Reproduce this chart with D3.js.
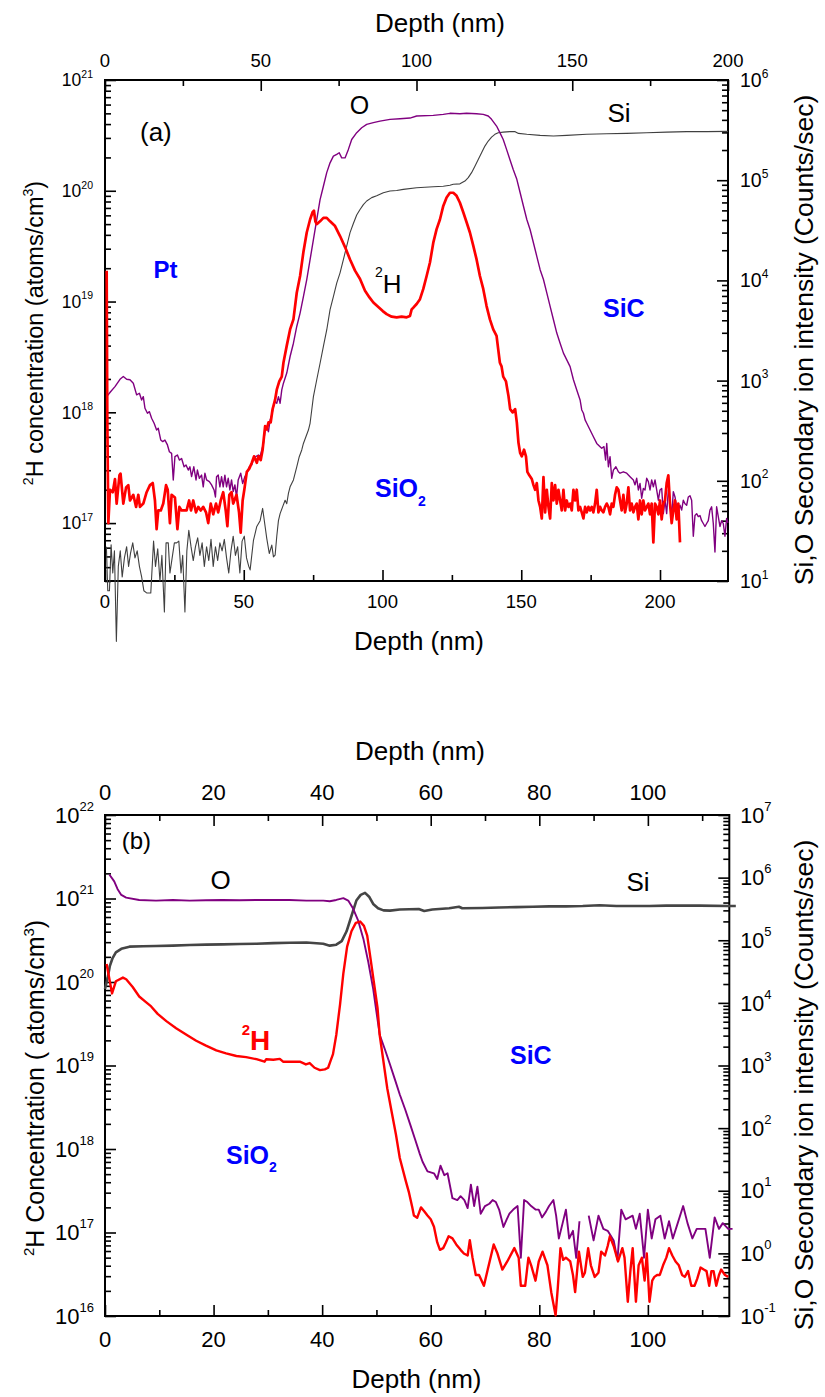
<!DOCTYPE html>
<html>
<head>
<meta charset="utf-8">
<script src="https://cdn.jsdelivr.net/npm/d3@7"></script>
<style>
  body { margin: 0; background: #fff; }
  svg { display: block; }
  text { font-family: "Liberation Sans", Arial, Helvetica, sans-serif; }
</style>
</head>
<body>
<svg id="chart" width="825" height="1397"></svg>
<script>
// ---------------- Panel (a): Pt / SiO2 / SiC stack, 200 nm scale ----------------
// [depth (nm), 2H concentration (atoms/cm3)]
const aH2 = [[0.6,1.9e19],[0.84,8.1e17],[1.2,1.0e17],[1.8,2.0e17],[2.8,1.9e17],[3.6,2.5e17],[4.2,1.5e17],[5.2,2.7e17],[5.6,2.8e17],[6.6,1.5e17],[7.6,2.1e17],[8.4,2.2e17],[9.0,1.6e17],[10.2,1.8e17],[11.2,1.4e17],[12.0,1.8e17],[12.6,1.4e17],[13.8,1.5e17],[15.0,1.9e17],[16.2,2.2e17],[17.2,2.3e17],[18.0,1.6e17],[18.6,8.8e16],[19.2,1.3e17],[20.1,1.3e17],[21.0,1.5e17],[22.0,2.2e17],[22.6,2.0e17],[23.4,1.0e17],[24.0,1.8e17],[25.2,1.7e17],[26.1,8.8e16],[26.8,1.4e17],[27.6,1.3e17],[28.5,1.3e17],[29.4,1.3e17],[30.3,1.6e17],[31.0,1.3e17],[31.8,1.6e17],[32.8,1.25e17],[33.6,1.4e17],[34.5,1.3e17],[35.4,1.4e17],[36.4,1.25e17],[37.2,1.0e17],[38.1,1.5e17],[39.0,1.2e17],[40.0,1.5e17],[40.8,1.25e17],[41.7,1.6e17],[42.6,1.9e17],[43.5,1.3e17],[44.1,9.4e16],[44.8,1.8e17],[45.6,1.9e17],[46.2,1.5e17],[47.4,1.8e17],[48.3,1.25e17],[48.9,8.2e16],[49.6,1.6e17],[50.2,2.0e17],[51.1,2.9e17],[52.0,3.1e17],[52.9,3.5e17],[53.7,4.0e17],[54.7,3.5e17],[55.3,4.0e17],[56.1,3.7e17],[56.8,4.6e17],[57.7,7.5e17],[58.3,7.0e17],[58.9,8.1e17],[59.7,8.1e17],[60.4,1.07e18],[61.3,1.3e18],[61.9,1.6e18],[62.8,1.9e18],[63.7,2.1e18],[64.3,2.8e18],[65.5,4.0e18],[66.7,5.6e18],[67.9,6.9e18],[69.1,1.2e19],[70.3,1.7e19],[71.5,2.8e19],[72.7,4.2e19],[73.9,5.5e19],[74.8,6.4e19],[75.3,6.6e19],[75.8,5.3e19],[76.3,5.0e19],[77.5,5.3e19],[78.7,5.7e19],[79.9,5.7e19],[81.1,5.3e19],[82.9,4.8e19],[84.7,3.9e19],[86.5,3.1e19],[88.3,2.4e19],[90.1,1.9e19],[91.9,1.6e19],[93.7,1.25e19],[95.3,1.09e19],[96.7,9.8e18],[98.1,9.1e18],[100.1,8.2e18],[101.5,7.7e18],[103.3,7.3e18],[105.1,7.2e18],[106.9,7.3e18],[108.7,7.2e18],[109.9,7.4e18],[110.5,8.5e18],[111.1,8.8e18],[112.3,9.5e18],[113.5,1.05e19],[114.7,1.3e19],[115.9,1.7e19],[117.1,2.25e19],[118.3,3.4e19],[119.5,4.5e19],[120.7,5.5e19],[121.9,7.3e19],[123.1,8.7e19],[124.3,9.6e19],[125.5,9.6e19],[126.7,9.0e19],[127.9,7.8e19],[129.1,6.4e19],[130.3,5.2e19],[131.5,4.2e19],[132.7,3.2e19],[133.9,2.4e19],[135.1,1.7e19],[136.3,1.3e19],[137.5,9.1e18],[138.7,6.9e18],[139.9,5.6e18],[141.1,4.9e18],[141.7,3.7e18],[142.3,2.8e18],[142.9,2.6e18],[143.5,2.1e18],[144.5,1.9e18],[145.0,1.6e18],[145.4,1.4e18],[146.0,1.07e18],[146.9,1.0e18],[147.8,1.07e18],[148.4,8.1e17],[149.0,5.3e17],[149.6,4.3e17],[150.2,4.0e17],[151.0,4.6e17],[151.7,4.0e17],[152.2,2.9e17],[152.9,2.7e17],[153.8,2.5e17],[154.4,2.2e17],[155.0,2.0e17],[155.6,2.3e17],[156.2,1.6e17],[156.8,1.4e17],[157.4,1.1e17],[158.0,2.6e17],[158.6,1.25e17],[159.2,2.0e17],[159.8,1.4e17],[160.4,1.1e17],[161.0,2.3e17],[161.6,1.6e17],[162.2,2.2e17],[162.8,1.5e17],[163.4,2.0e17],[164.0,1.6e17],[164.6,1.3e17],[165.2,2.0e17],[165.8,1.3e17],[166.4,1.6e17],[167.0,1.4e17],[167.6,1.5e17],[168.2,1.3e17],[168.8,2.0e17],[169.4,1.6e17],[170.0,2.0e17],[170.6,1.3e17],[171.2,1.4e17],[171.8,1.25e17],[172.4,1.1e17],[173.0,1.4e17],[173.6,1.25e17],[174.2,1.4e17],[174.8,1.3e17],[175.4,1.4e17],[176.0,1.25e17],[176.6,1.5e17],[177.2,2.0e17],[177.8,1.25e17],[178.4,1.4e17],[179.0,1.3e17],[179.6,1.25e17],[180.2,1.4e17],[180.8,1.5e17],[181.4,1.4e17],[182.0,1.2e17],[182.6,1.5e17],[183.2,1.4e17],[183.8,1.8e17],[184.4,2.1e17],[185.0,2.0e17],[185.6,1.6e17],[186.2,1.3e17],[186.8,1.8e17],[187.4,1.25e17],[188.0,1.5e17],[188.6,2.1e17],[189.2,1.3e17],[189.8,1.5e17],[190.4,1.25e17],[191.0,1.4e17],[191.6,1.5e17],[192.2,1.08e17],[192.8,1.6e17],[193.4,1.2e17],[194.0,1.6e17],[194.6,1.3e17],[195.2,1.4e17],[195.8,1.5e17],[196.4,1.2e17],[197.0,1.5e17],[197.6,6.7e16],[198.2,1.5e17],[198.8,1.4e17],[199.4,1.2e17],[200.0,1.6e17],[200.6,1.08e17],[201.2,1.5e17],[201.8,1.6e17],[202.4,2.3e17],[203.0,2.7e17],[203.6,1.5e17],[204.2,1.0e17],[204.8,1.3e17],[205.4,1.6e17],[206.0,1.08e17],[206.6,1.5e17],[207.2,6.7e16]];

// [depth (nm), O secondary ion intensity (counts/sec)]
const aO = [[0.6,692],[2.0,775],[3.6,870],[5.4,1030],[6.6,1100],[7.8,1030],[9.0,1020],[10.2,942],[11.4,720],[12.4,748],[13.2,641],[13.8,692],[14.4,530],[15.3,472],[16.0,490],[16.8,421],[17.7,375],[18.6,321],[19.2,334],[20.1,255],[20.8,246],[21.6,255],[22.5,228],[23.2,195],[24.0,188],[24.6,102],[25.2,174],[26.1,181],[26.8,161],[27.6,167],[28.5,138],[29.2,144],[30.0,128],[30.6,138],[31.2,110],[32.0,138],[32.8,102],[33.3,128],[34.0,106],[34.8,114],[35.4,87],[36.0,119],[36.6,102],[37.6,98],[38.4,91],[39.3,81],[39.8,69],[40.2,110],[40.8,114],[41.4,87],[42.0,110],[42.6,87],[43.2,114],[43.8,87],[44.4,106],[45.0,81],[45.6,102],[46.2,78],[46.8,91],[47.4,69],[48.0,102],[48.9,119],[49.6,94],[50.4,110],[51.1,119],[52.0,138],[52.9,144],[53.4,161],[54.3,174],[55.3,181],[55.9,174],[56.5,203],[57.1,236],[57.7,321],[58.3,347],[58.9,309],[59.5,405],[60.1,454],[60.7,551],[61.3,617],[61.9,594],[62.5,692],[63.1,594],[63.7,807],[64.3,942],[65.5,1190],[66.7,1740],[67.9,2360],[69.1,3470],[70.3,4720],[71.5,6900],[72.7,1.02e4],[73.9,1.61e4],[75.1,2.55e4],[76.3,4.05e4],[77.5,6.4e4],[78.7,8.7e4],[79.9,1.19e5],[81.1,1.49e5],[82.3,1.74e5],[83.5,1.81e5],[84.4,1.88e5],[85.3,1.67e5],[86.5,1.67e5],[87.7,2.03e5],[88.9,2.55e5],[90.7,2.98e5],[92.5,3.34e5],[94.3,3.61e5],[96.7,3.75e5],[99.1,3.89e5],[102.7,4.05e5],[106.3,4.11e5],[109.9,4.17e5],[112.3,4.37e5],[118.3,4.44e5],[121.9,4.54e5],[124.3,4.65e5],[127.9,4.61e5],[130.3,4.65e5],[133.9,4.61e5],[136.3,4.54e5],[138.1,4.37e5],[139.3,4.05e5],[141.1,3.47e5],[142.3,2.98e5],[143.5,2.55e5],[144.7,2.03e5],[145.9,1.61e5],[147.1,1.28e5],[148.4,1.02e5],[149.6,7.5e4],[150.8,5.5e4],[152.0,4.05e4],[153.2,3.2e4],[154.4,2.36e4],[155.6,1.74e4],[156.8,1.28e4],[158.0,1.02e4],[159.2,7500],[160.4,5500],[161.6,4050],[162.8,2980],[164.0,2360],[165.2,1880],[166.4,1610],[167.6,1380],[168.8,1020],[170.0,807],[171.2,641],[171.8,509],[172.4,472],[173.0,405],[173.6,375],[174.8,321],[176.0,275],[177.2,236],[178.4,219],[179.0,211],[179.8,219],[180.4,161],[180.8,236],[181.4,138],[182.0,174],[182.6,106],[183.2,128],[184.1,138],[185.0,123],[185.6,119],[186.8,123],[188.0,119],[189.2,110],[190.4,102],[191.0,91],[191.6,106],[192.2,81],[192.8,94],[193.4,67],[194.0,84],[194.6,81],[195.2,106],[195.8,98],[196.4,81],[197.0,102],[197.6,87],[198.2,102],[198.8,81],[199.4,64],[200.0,81],[200.6,84],[201.2,47],[201.8,64],[202.4,47],[203.0,81],[203.6,64],[204.2,44],[204.8,78],[205.4,69],[206.0,55],[206.6,51],[207.2,57],[207.8,51],[208.4,64],[209.0,59],[209.6,57],[210.2,69],[210.8,71],[211.4,64],[212.0,28],[212.6,45],[213.2,47],[213.8,44],[214.4,45],[215.0,40],[215.6,37.5],[216.2,35],[216.8,37.5],[217.4,40],[218.0,51],[218.6,55],[219.2,37.5],[219.8,19.5],[220.4,55],[221.0,44],[221.6,35],[222.2,40],[222.8,37.5],[223.4,28],[224.0,42],[224.5,38]];

// [depth (nm), Si secondary ion intensity (counts/sec)]
const aSi = [[0.5,22],[1.0,8],[1.6,8],[2.2,23],[2.8,12],[3.4,20],[4.1,2.5],[4.8,14],[5.5,20],[6.2,11],[7.0,17],[7.8,22],[8.5,14],[9.2,19],[10.0,24],[10.8,17],[11.6,20],[12.4,14],[13.2,11],[14.0,8],[15.0,7.6],[16.5,7.6],[17.5,25],[18.2,14],[19.0,21],[19.8,10],[20.5,18],[21.4,4.9],[22.0,24],[22.8,24],[23.4,12],[24.2,17],[25.0,24],[25.8,24],[26.6,25],[27.4,12],[28.0,18],[28.8,4.9],[29.5,20],[30.2,32],[31.0,22],[31.8,16],[32.6,22],[33.4,27],[34.2,18],[35.0,24],[35.8,14],[36.6,22],[37.4,16],[38.2,26],[39.0,14],[39.8,22],[40.6,16],[41.4,24],[42.2,20],[43.0,26],[43.8,17],[44.6,12],[45.4,20],[46.2,28],[47.0,18],[47.8,22],[48.6,12],[49.4,25],[50.2,28],[51.0,17],[51.8,14],[52.3,12.9],[53.5,25.5],[54.7,35],[55.9,40],[56.8,53],[57.7,35],[58.3,26.5],[59.2,18.8],[60.1,22.8],[60.7,17.4],[61.3,18.1],[61.9,28],[62.5,40],[63.1,47],[64.0,55],[64.9,64],[65.5,59],[66.1,75],[66.7,87],[67.9,102],[69.1,138],[70.0,174],[70.9,203],[71.5,236],[72.4,275],[73.3,321],[73.9,375],[74.5,509],[75.1,692],[76.3,1020],[77.5,1490],[78.7,2200],[79.9,3200],[81.1,5100],[82.3,6900],[83.5,9400],[84.7,1.19e4],[85.9,1.61e4],[87.1,2.2e4],[88.3,3.0e4],[89.5,3.7e4],[90.7,4.5e4],[91.9,5.1e4],[93.1,5.7e4],[94.3,6.2e4],[96.1,6.7e4],[97.9,7.0e4],[100.3,7.5e4],[102.7,7.8e4],[105.1,7.9e4],[107.5,8.1e4],[112.3,8.4e4],[118.3,8.6e4],[121.9,8.7e4],[124.3,8.9e4],[125.5,9.1e4],[127.9,9.2e4],[129.7,9.8e4],[130.9,1.06e5],[132.1,1.19e5],[133.3,1.38e5],[134.5,1.61e5],[135.7,1.88e5],[136.9,2.19e5],[138.1,2.46e5],[139.3,2.69e5],[140.5,2.87e5],[141.7,2.98e5],[143.5,3.02e5],[145.9,3.05e5],[147.8,3.05e5],[149.0,2.93e5],[152.0,2.87e5],[156.8,2.8e5],[161.6,2.76e5],[166.4,2.8e5],[173.6,2.87e5],[180.8,2.91e5],[188.0,2.93e5],[195.2,2.98e5],[202.4,3.02e5],[209.6,3.05e5],[216.8,3.05e5],[224.5,3.07e5]];

// ---------------- Panel (b): SiO2 / SiC, 115 nm scale ----------------
const bH2 = [[0.3,1.64e20],[1.3,7.3e19],[2.0,1.02e20],[3.3,1.13e20],[3.9,1.08e20],[5.1,8.7e19],[6.3,6.7e19],[7.6,5.7e19],[8.5,5.1e19],[9.7,4.15e19],[11.3,3.4e19],[13.1,2.8e19],[15.3,2.27e19],[16.8,1.98e19],[18.6,1.73e19],[20.5,1.52e19],[22.3,1.40e19],[24.2,1.30e19],[26.0,1.26e19],[27.9,1.19e19],[29.4,1.11e19],[29.7,1.19e19],[31.0,1.17e19],[32.2,1.20e19],[32.8,1.11e19],[34.6,1.11e19],[35.9,1.11e19],[37.0,1.03e19],[37.7,1.07e19],[38.6,9.4e18],[39.6,8.8e18],[40.5,9.0e18],[41.1,9.4e18],[41.5,1.11e19],[42.0,1.37e19],[42.6,2.32e19],[43.3,5.4e19],[43.9,1.26e20],[44.6,2.65e20],[45.4,4.05e20],[46.2,5.1e20],[47.0,5.3e20],[47.7,4.7e20],[48.3,3.6e20],[48.9,1.93e20],[49.5,1.02e20],[50.2,4.9e19],[50.6,2.32e19],[51.3,1.11e19],[52.0,5.3e18],[52.8,2.8e18],[53.6,1.48e18],[54.3,7.8e17],[55.4,4.15e17],[56.0,3.0e17],[56.6,2.0e17],[56.9,1.6e17],[57.5,1.5e17],[58.2,2.0e17],[58.8,1.8e17],[59.4,1.6e17],[60.0,1.44e17],[60.6,1.17e17],[61.2,7.6e16],[61.7,6.2e16],[62.3,6.5e16],[62.8,7.6e16],[63.3,9.0e16],[64.0,8.5e16],[64.7,7.2e16],[65.5,6.2e16],[66.1,5.6e16],[66.8,5.3e16],[67.2,8.1e16],[67.7,5.0e16],[68.3,3.1e16],[68.9,3.1e16],[69.8,2.3e16],[70.5,3.6e16],[71.6,7.2e16],[72.3,5.6e16],[73.2,3.6e16],[74.1,4.5e16],[75.4,6.5e16],[76.2,5.0e16],[76.6,2.3e16],[77.4,2.3e16],[78.0,5.0e16],[78.5,4.05e16],[79.3,2.65e16],[79.9,4.5e16],[80.6,5.9e16],[81.5,4.05e16],[82.2,1.93e16],[83.0,1.02e16],[83.4,2.14e16],[83.9,6.5e16],[84.4,4.7e16],[84.9,5.0e16],[85.7,4.5e16],[86.2,3.1e16],[86.6,1.93e16],[87.3,5.9e16],[88.0,2.94e16],[88.4,3.3e16],[89.0,6.5e16],[89.5,4.05e16],[90.2,2.94e16],[90.9,3.3e16],[91.4,5.9e16],[92.1,5.3e16],[92.6,6.9e16],[93.0,9.0e16],[93.7,6.9e16],[94.5,4.5e16],[95.3,6.5e16],[95.7,5.0e16],[96.3,1.48e16],[96.8,3.6e16],[97.2,6.5e16],[97.8,1.48e16],[98.3,4.05e16],[98.9,5.0e16],[99.4,2.65e16],[99.8,5.6e16],[100.3,1.48e16],[100.8,2.65e16],[101.2,2.94e16],[101.7,3.1e16],[102.2,3.1e16],[102.8,4.05e16],[103.4,5.0e16],[103.9,6.5e16],[104.5,5.3e16],[105.1,4.5e16],[105.7,4.05e16],[106.3,3.1e16],[106.8,2.94e16],[107.4,3.45e16],[108.0,2.3e16],[108.6,2.3e16],[109.1,2.8e16],[109.7,3.8e16],[110.3,3.6e16],[110.8,3.45e16],[111.3,2.3e16],[111.7,3.45e16],[112.1,3.45e16],[112.6,2.3e16],[113.1,3.1e16],[113.5,3.6e16],[114.2,3.1e16],[114.8,2.94e16]];

// null marks a gap where no counts were recorded
const bO = [[0.8,1.12e6],[1.7,8.7e5],[2.3,6.6e5],[3.0,5.3e5],[3.9,4.8e5],[6.3,4.4e5],[9.4,4.3e5],[12.5,4.4e5],[15.6,4.3e5],[18.6,4.35e5],[21.7,4.4e5],[24.8,4.35e5],[27.9,4.4e5],[31.0,4.4e5],[34.0,4.4e5],[37.1,4.3e5],[40.2,4.3e5],[41.4,4.2e5],[42.6,4.4e5],[43.9,4.7e5],[44.8,4.3e5],[45.7,3.2e5],[46.6,2.1e5],[47.6,1.05e5],[48.5,4.5e4],[49.4,1.67e4],[50.0,7200],[50.6,3100],[51.6,1770],[52.5,1040],[53.4,600],[54.3,344],[55.3,198],[56.2,116],[57.1,67],[58.0,38.5],[58.5,29],[59.4,20.4],[60.6,19.0],[61.2,15.4],[61.8,25.2],[62.5,17.7],[63.1,19.0],[64.0,7.6],[64.9,7.1],[65.5,8.2],[66.2,7.1],[66.8,5.3],[67.4,12.5],[68.0,5.7],[68.6,11.6],[69.2,4.3],[70.0,5.7],[70.8,6.2],[71.4,7.1],[72.0,6.6],[72.6,5.0],[73.4,2.64],[74.0,3.5],[74.5,4.3],[75.2,5.0],[76.0,5.7],[76.6,0.85],[77.2,7.1],[77.8,6.6],[78.5,5.7],[79.3,5.0],[79.9,5.0],[80.5,3.75],[81.2,4.6],[81.8,5.7],[82.6,7.1],[83.1,4.0],[83.6,1.73],[84.3,3.04],[84.9,5.0],[85.5,1.73],[86.2,2.29],[86.8,0.85],[87.4,3.26],[88.2,null],[89.1,4.0],[90.0,1.61],[90.9,4.0],[91.8,2.46],[92.6,2.29],[93.7,1.61],[94.4,0.79],[95.1,5.0],[95.9,3.5],[96.6,3.75],[97.2,4.0],[97.8,2.46],[98.5,4.3],[99.3,0.85],[100.0,5.0],[100.7,1.73],[101.4,3.5],[102.3,4.0],[103.1,1.73],[103.9,3.26],[104.6,1.73],[105.5,3.04],[106.5,5.7],[107.3,3.04],[108.2,1.73],[109.0,2.46],[109.7,2.46],[110.6,2.46],[111.4,0.85],[112.3,3.75],[113.1,2.46],[113.8,3.04],[114.8,2.46],[115.6,2.46]];

const bSi = [[0.0,1.67e4],[0.5,2.55e4],[0.9,3.9e4],[1.4,5.2e4],[2.0,6.4e4],[3.0,7.3e4],[4.5,7.9e4],[7.0,8.0e4],[9.4,8.1e4],[12.5,8.2e4],[15.6,8.4e4],[18.6,8.5e4],[21.7,8.6e4],[24.8,8.7e4],[27.9,8.8e4],[31.0,9.0e4],[34.0,9.1e4],[37.1,9.2e4],[40.2,8.8e4],[41.4,8.2e4],[42.6,8.5e4],[43.6,9.7e4],[44.5,1.39e5],[45.4,2.44e5],[46.3,4.3e5],[47.1,5.3e5],[47.9,5.7e5],[48.7,4.9e5],[49.4,3.8e5],[50.3,3.24e5],[51.3,3.0e5],[52.5,2.97e5],[54.3,3.1e5],[57.8,3.15e5],[58.8,2.93e5],[60.3,3.1e5],[63.4,3.24e5],[65.2,3.43e5],[65.8,3.24e5],[69.5,3.28e5],[72.6,3.33e5],[75.7,3.38e5],[78.8,3.43e5],[81.8,3.47e5],[84.9,3.47e5],[88.0,3.52e5],[91.1,3.63e5],[94.2,3.52e5],[97.2,3.52e5],[100.3,3.52e5],[103.4,3.57e5],[106.5,3.57e5],[109.5,3.57e5],[114.8,3.52e5],[116.2,3.52e5]];

// ---------------- Tick values ----------------
const aBottomTicks = [0, 50, 100, 150, 200];
const aBottomMinor = [25, 75, 125, 175];
const aTopTicks = [0, 50, 100, 150, 200];
const aTopMinor = [25, 75, 125, 175];
const aLeftExps = [17, 18, 19, 20, 21];
const aRightExps = [1, 2, 3, 4, 5, 6];

const bDepthTicks = [0, 20, 40, 60, 80, 100];
const bDepthMinor = [10, 30, 50, 70, 90, 110];
const bLeftExps = [16, 17, 18, 19, 20, 21, 22];
const bRightExps = [-1, 0, 1, 2, 3, 4, 5, 6, 7];

// ---------------- Drawing ----------------
const svg = d3.select("#chart");
const COLORS = { h2: "#ff0000", o: "#800080", si: "#404040", blue: "#0000ff" };

function logMinor(domain) {
  const [lo, hi] = domain, out = [];
  for (let e = Math.floor(Math.log10(lo)); e <= Math.ceil(Math.log10(hi)); e++) {
    for (let k = 2; k <= 9; k++) {
      const v = k * Math.pow(10, e);
      if (v >= lo * 0.999 && v <= hi * 1.001) out.push(v);
    }
  }
  return out;
}

function styleAxis(g, w) {
  g.select(".domain").remove();
  g.selectAll(".tick line").attr("stroke", "#000").attr("stroke-width", w);
}

function powLabel(sel, exp, mainSize, supSize, raise) {
  sel.append("tspan").attr("font-size", mainSize).text("10");
  sel.append("tspan").attr("font-size", supSize).attr("dy", -raise).text(String(exp));
}

function drawPanel(p) {
  const g = svg.append("g");
  const { left, right, top, bottom } = p.box;
  const x = d3.scaleLinear().domain(p.xDomain).range([left, right]);
  const xTop = d3.scaleLinear().domain(p.xTopDomain).range([left, right]);
  const yL = d3.scaleLog().domain(p.yLDomain).range([bottom, top]);
  const yR = d3.scaleLog().domain(p.yRDomain).range([bottom, top]);

  // tick marks (all pointing into the plot)
  const MAJ = 11, MIN = 6;
  const axes = [
    [d3.axisBottom(x).tickValues(p.xTicks), `translate(0,${bottom})`, -MAJ],
    [d3.axisBottom(x).tickValues(p.xMinor), `translate(0,${bottom})`, -MIN],
    [d3.axisTop(xTop).tickValues(p.xTopTicks), `translate(0,${top})`, -MAJ],
    [d3.axisTop(xTop).tickValues(p.xTopMinor), `translate(0,${top})`, -MIN],
    [d3.axisLeft(yL).tickValues(p.leftExps.map(e => Math.pow(10, e))), `translate(${left},0)`, -MAJ],
    [d3.axisLeft(yL).tickValues(logMinor(p.yLDomain)), `translate(${left},0)`, -MIN],
    [d3.axisRight(yR).tickValues(p.rightExps.map(e => Math.pow(10, e))), `translate(${right},0)`, -MAJ],
    [d3.axisRight(yR).tickValues(logMinor(p.yRDomain)), `translate(${right},0)`, -MIN]
  ];
  axes.forEach(([ax, tr, size]) => {
    g.append("g").attr("transform", tr)
      .call(ax.tickSize(size).tickFormat(""))
      .call(a => styleAxis(a, 1.6));
  });

  // frame
  g.append("rect").attr("x", left).attr("y", top)
    .attr("width", right - left).attr("height", bottom - top)
    .attr("fill", "none").attr("stroke", "#000").attr("stroke-width", 2);

  // depth tick labels
  g.selectAll(null).data(p.xTicks).join("text")
    .attr("x", d => x(d)).attr("y", bottom + p.f.xLabelDy)
    .attr("text-anchor", "middle").attr("font-size", p.f.xTick).text(d => d);
  g.selectAll(null).data(p.xTopTicks).join("text")
    .attr("x", d => xTop(d)).attr("y", top - p.f.xTopLabelDy)
    .attr("text-anchor", "middle").attr("font-size", p.f.xTick).text(d => d);

  // power-of-ten labels
  g.selectAll(null).data(p.leftExps).join("text")
    .attr("x", left - p.f.yGap).attr("y", d => yL(Math.pow(10, d)) + p.f.yL * 0.36)
    .attr("text-anchor", "end")
    .each(function (d) { powLabel(d3.select(this), d, p.f.yL, p.f.yLSup, p.f.yLRaise); });
  g.selectAll(null).data(p.rightExps).join("text")
    .attr("x", right + p.f.yGap).attr("y", d => yR(Math.pow(10, d)) + p.f.yR * 0.36)
    .attr("text-anchor", "start")
    .each(function (d) { powLabel(d3.select(this), d, p.f.yR, p.f.yRSup, p.f.yRRaise); });

  // depth profiles
  const lineL = d3.line().defined(d => d[1] != null).x(d => x(d[0])).y(d => yL(d[1]));
  const lineR = d3.line().defined(d => d[1] != null).x(d => x(d[0])).y(d => yR(d[1]));
  p.series.forEach(s => {
    g.append("path").datum(s.data)
      .attr("d", s.axis === "L" ? lineL : lineR)
      .attr("fill", "none").attr("stroke", s.color).attr("stroke-width", s.width)
      .attr("stroke-linejoin", "round");
  });
  return g;
}

// axis titles
function depthTitle(xp, yp) {
  svg.append("text").attr("x", xp).attr("y", yp).attr("text-anchor", "middle")
    .attr("font-size", 26).text("Depth (nm)");
}
function rotatedTitle(xp, yp, parts, size) {
  const t = svg.append("text").attr("transform", `translate(${xp},${yp}) rotate(-90)`)
    .attr("text-anchor", "middle").attr("font-size", size);
  parts.forEach(([s, kind]) => {
    const ts = t.append("tspan").text(s);
    if (kind === "sup") ts.attr("font-size", size * 0.6).attr("dy", -size * 0.42);
    if (kind === "back") ts.attr("dy", size * 0.42);
  });
}
function label(xp, yp, parts, opts) {
  const t = svg.append("text").attr("x", xp).attr("y", yp)
    .attr("text-anchor", opts.anchor || "start").attr("font-size", opts.size)
    .attr("fill", opts.color || "#000").attr("font-weight", opts.bold ? "bold" : "normal");
  parts.forEach(([s, dy, fs]) => {
    const ts = t.append("tspan").text(s);
    if (dy) ts.attr("dy", dy);
    if (fs) ts.attr("font-size", fs);
  });
}

// ---- Panel (a)
drawPanel({
  box: { left: 105, right: 728, top: 80, bottom: 581 },
  xDomain: [0, 224.5], xTopDomain: [0, 200],
  yLDomain: [3e16, 1e21], yRDomain: [10, 1e6],
  xTicks: aBottomTicks, xMinor: aBottomMinor,
  xTopTicks: aTopTicks, xTopMinor: aTopMinor,
  leftExps: aLeftExps, rightExps: aRightExps,
  f: { xTick: 18.5, xLabelDy: 27, xTopLabelDy: 13.5, yGap: 12,
       yL: 17.5, yLSup: 10.5, yLRaise: 8.5, yR: 19.5, yRSup: 12, yRRaise: 9.5 },
  series: [
    { data: aSi, axis: "R", color: COLORS.si, width: 1.1 },
    { data: aO, axis: "R", color: COLORS.o, width: 1.4 },
    { data: aH2, axis: "L", color: COLORS.h2, width: 2.7 }
  ]
});
depthTitle(440, 32);
depthTitle(419, 650);
rotatedTitle(43, 333, [["2", "sup"], ["H concentration (atoms/cm", "back"], ["3", "sup"], [")", "back"]], 23.5);
rotatedTitle(813, 340, [["Si,O Secondary ion intensity (Counts/sec)"]], 26.5);
label(140, 141, [["(a)"]], { size: 26 });
label(359.5, 114, [["O"]], { size: 25, anchor: "middle" });
label(619, 122, [["Si"]], { size: 26, anchor: "middle" });
label(165.5, 278, [["Pt"]], { size: 24, bold: true, color: COLORS.blue, anchor: "middle" });
label(375, 293, [["2", -16, 14], ["H", 16, 26]], { size: 26 });
label(603, 317, [["SiC"]], { size: 25, bold: true, color: COLORS.blue });
label(375, 497, [["SiO"], ["2", 9, 14]], { size: 25, bold: true, color: COLORS.blue });

// ---- Panel (b)
drawPanel({
  box: { left: 105, right: 729.3, top: 815, bottom: 1316 },
  xDomain: [0, 115], xTopDomain: [0, 115],
  yLDomain: [1e16, 1e22], yRDomain: [0.1, 1e7],
  xTicks: bDepthTicks, xMinor: bDepthMinor,
  xTopTicks: bDepthTicks, xTopMinor: bDepthMinor,
  leftExps: bLeftExps, rightExps: bRightExps,
  f: { xTick: 22, xLabelDy: 31, xTopLabelDy: 15, yGap: 11,
       yL: 22, yLSup: 13, yLRaise: 12, yR: 21.5, yRSup: 13, yRRaise: 12 },
  series: [
    { data: bSi, axis: "R", color: "#454545", width: 2.6 },
    { data: bO, axis: "R", color: COLORS.o, width: 1.9 },
    { data: bH2, axis: "L", color: COLORS.h2, width: 2.4 }
  ]
});
depthTitle(420, 760);
depthTitle(416.5, 1388);
rotatedTitle(44, 1088, [["2", "sup"], ["H  Concentration ( atoms/cm", "back"], ["3", "sup"], [")", "back"]], 25);
rotatedTitle(813, 1085, [["Si,O Secondary ion intensity (Counts/sec)"]], 26.5);
label(121.7, 849, [["(b)"]], { size: 24 });
label(220.7, 889, [["O"]], { size: 26, anchor: "middle" });
label(638, 891, [["Si"]], { size: 26, anchor: "middle" });
label(241.7, 1049.6, [["2", -14.6, 15], ["H", 14.6, 28]], { size: 28, bold: true, color: COLORS.h2 });
label(226, 1163.7, [["SiO"], ["2", 8, 14]], { size: 25, bold: true, color: COLORS.blue });
label(510, 1063.8, [["SiC"]], { size: 25, bold: true, color: COLORS.blue });
</script>
</body>
</html>
